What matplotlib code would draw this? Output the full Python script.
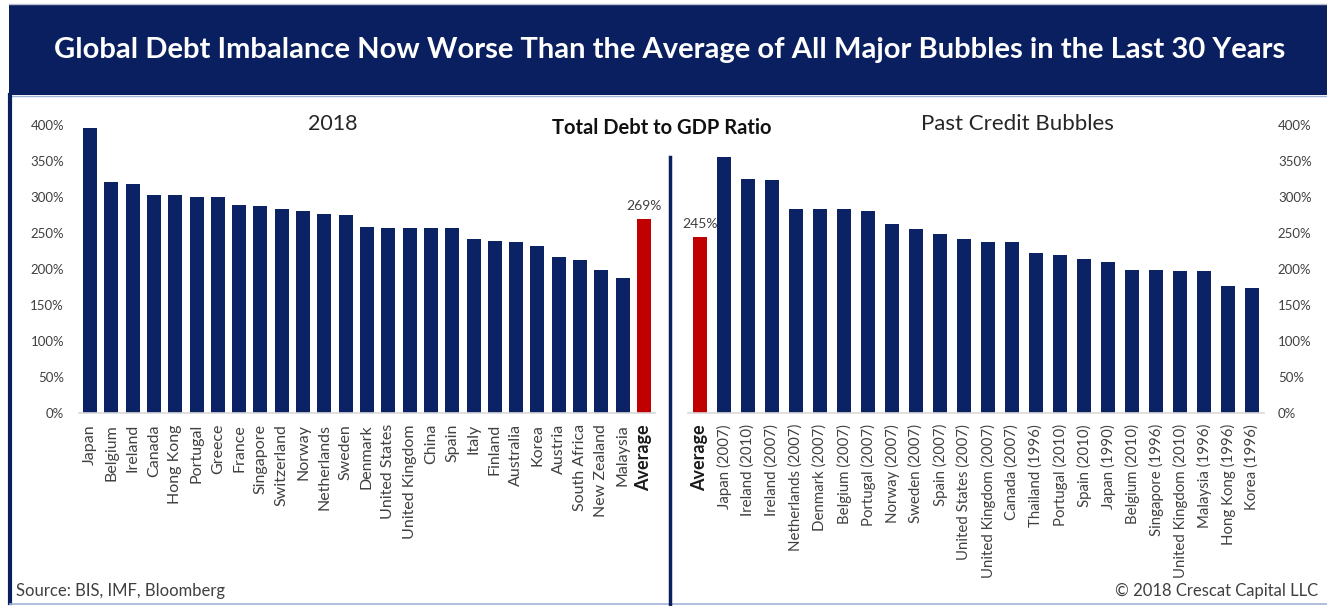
import matplotlib
matplotlib.use("Agg")
import matplotlib.pyplot as plt
from matplotlib.patches import Rectangle
from matplotlib.lines import Line2D

plt.rcParams['font.family'] = ['Lato', 'DejaVu Sans']

W, H = 1327, 606

# ---------------- data ----------------
left_labels = ["Japan", "Belgium", "Ireland", "Canada", "Hong Kong", "Portugal", "Greece",
               "France", "Singapore", "Switzerland", "Norway", "Netherlands", "Sweden",
               "Denmark", "United States", "United Kingdom", "China", "Spain", "Italy",
               "Finland", "Australia", "Korea", "Austria", "South Africa", "New Zealand",
               "Malaysia", "Average"]
left_values = [396, 321, 318, 303, 303, 300, 300, 289, 287, 283, 281, 277, 275,
               259, 257, 257, 257, 257, 242, 239, 238, 232, 216, 212, 198, 187, 269]

right_labels = ["Average", "Japan (2007)", "Ireland (2010)", "Ireland (2007)",
                "Netherlands (2007)", "Denmark (2007)", "Belgium (2007)", "Portugal (2007)",
                "Norway (2007)", "Sweden (2007)", "Spain (2007)", "United States (2007)",
                "United Kingdom (2007)", "Canada (2007)", "Thailand (1996)", "Portugal (2010)",
                "Spain (2010)", "Japan (1990)", "Belgium (2010)", "Singapore (1996)",
                "United Kingdom (2010)", "Malaysia (1996)", "Hong Kong (1996)", "Korea (1996)"]
right_values = [245, 356, 325, 323, 283, 283, 283, 281, 262, 255, 248, 242, 238, 238,
                222, 219, 214, 210, 199, 199, 197, 197, 176, 173]

y_ticks = [0, 50, 100, 150, 200, 250, 300, 350, 400]
y_tick_labels = ["0%", "50%", "100%", "150%", "200%", "250%", "300%", "350%", "400%"]

left_avg_label = "269%"
right_avg_label = "245%"

title = "Global Debt Imbalance Now Worse Than the Average of All Major Bubbles in the Last 30 Years"
center_title = "Total Debt to GDP Ratio"
left_title = "2018"
right_title = "Past Credit Bubbles"
source_text = "Source: BIS, IMF, Bloomberg"
copyright_text = "\u00a9 2018 Crescat Capital LLC"

# ---------------- style ----------------
NAVY = "#0a1f5f"
BAR = "#0b2265"
RED = "#c00000"
TXT = "#404040"

fig = plt.figure(figsize=(W / 100, H / 100), dpi=100)
fig.patch.set_facecolor("white")


def fx(px):
    return px / W


def fy(py):
    return 1 - py / H


# header band
fig.patches.append(Rectangle((fx(9), fy(95)), fx(1318), fy(5) - fy(95),
                             transform=fig.transFigure, facecolor=NAVY, edgecolor="none", zorder=0))
fig.lines.append(Line2D([fx(9), fx(1327)], [fy(4), fy(4)], transform=fig.transFigure,
                        color="#b8c0cc", lw=1))
fig.lines.append(Line2D([fx(9), fx(1327)], [fy(96), fy(96)], transform=fig.transFigure,
                        color="#9fb3d6", lw=1))
# left border
fig.lines.append(Line2D([fx(10), fx(10)], [fy(95), fy(603)], transform=fig.transFigure,
                        color=NAVY, lw=3))
# bottom line
fig.lines.append(Line2D([fx(10), fx(1327)], [fy(604), fy(604)], transform=fig.transFigure,
                        color="#9fb3d6", lw=1.2))
# divider
fig.lines.append(Line2D([fx(670), fx(670)], [fy(157), fy(604)], transform=fig.transFigure,
                        color=NAVY, lw=2.5))

fig.text(fx(670), fy(50), title, color="white", fontsize=21, fontweight="bold",
         ha="center", va="center")


def setup(ax, labels, xsize, right=False):
    ax.set_ylim(0, 400)
    ax.set_xlim(-0.5, len(labels) - 0.5)
    for s in ["top", "left", "right"]:
        ax.spines[s].set_visible(False)
    ax.spines["bottom"].set_color("#d9d9d9")
    ax.spines["bottom"].set_linewidth(1.2)
    ax.set_yticks(y_ticks)
    ax.set_yticklabels(y_tick_labels)
    ax.tick_params(axis="y", length=0, labelsize=9.5, labelcolor=TXT, pad=11)
    if right:
        ax.yaxis.tick_right()
        ax.tick_params(axis="y", length=0, pad=10)
    ax.set_xticks(range(len(labels)))
    ax.set_xticklabels(labels, rotation=90, fontsize=xsize, color=TXT)
    ax.tick_params(axis="x", length=0, pad=8)
    for t in ax.get_xticklabels():
        if t.get_text() == "Average":
            t.set_fontweight("bold")
            t.set_fontsize(13)
            t.set_color("#1a1a1a")
    ax.set_facecolor("none")


# left panel
axL = fig.add_axes([fx(79.35), fy(413), fx(654.65 - 79.35), (413 - 125) / H])
colorsL = [RED if l == "Average" else BAR for l in left_labels]
axL.bar(range(len(left_values)), left_values, width=0.66, color=colorsL)
setup(axL, left_labels, 11.5)
iL = left_labels.index("Average")
axL.annotate(left_avg_label, (iL, left_values[iL]), xytext=(0, 5), textcoords="offset points",
             ha="center", va="bottom", fontsize=10, color=TXT)

# right panel
axR = fig.add_axes([fx(688), fy(413), fx(1264 - 688), (413 - 125) / H])
colorsR = [RED if l == "Average" else BAR for l in right_labels]
axR.bar(range(len(right_values)), right_values, width=0.57, color=colorsR)
setup(axR, right_labels, 10.8, right=True)
iR = right_labels.index("Average")
axR.annotate(right_avg_label, (iR, right_values[iR]), xytext=(0, 5), textcoords="offset points",
             ha="center", va="bottom", fontsize=10, color=TXT)

# panel titles
fig.text(fx(333), fy(124), left_title, fontsize=15.5, color="#262626", ha="center", va="center")
fig.text(fx(1017), fy(124), right_title, fontsize=16, color="#262626", ha="center", va="center")
fig.text(fx(662), fy(128), center_title, fontsize=14.5, fontweight="bold", color="#111111",
         ha="center", va="center")

# footer
fig.text(fx(16), fy(591), source_text, fontsize=12, color=TXT, ha="left", va="center")
fig.text(fx(1318), fy(591), copyright_text, fontsize=12, color=TXT, ha="right", va="center")

fig.savefig("out.png", dpi=100, facecolor="white")
